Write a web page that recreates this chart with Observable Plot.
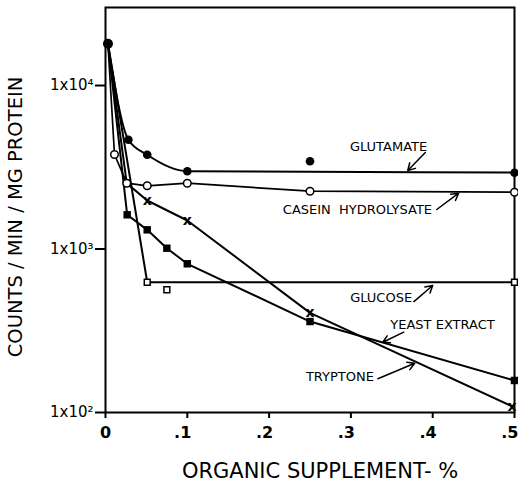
<!DOCTYPE html>
<html><head><meta charset="utf-8">
<script src="https://cdn.jsdelivr.net/npm/d3@7"></script>
<script src="https://cdn.jsdelivr.net/npm/@observablehq/plot@0.6"></script>
<style>body{margin:0;background:#fff}</style>
</head><body><div id="chart"></div><script>
// axis ticks
const xTicks = [0, 0.1, 0.2, 0.3, 0.4, 0.5];
const xTickLabels = ["0", ".1", ".2", ".3", ".4", ".5"];
const yTicks = [100, 1000, 10000];
const yTickLabels = ["1x10²", "1x10³", "1x10⁴"];
const xTitle = "ORGANIC SUPPLEMENT- %";
const yTitle = "COUNTS / MIN / MG PROTEIN";

// shared starting point (no supplement)
const startX = [0.003];
const startY = [18000];

// measured points
const glutX = [0.028, 0.051, 0.1, 0.25, 0.5];
const glutY = [4660, 3770, 2990, 3440, 2925];
const caseinX = [0.011, 0.026, 0.051, 0.1, 0.25, 0.5];
const caseinY = [3785, 2526, 2435, 2526, 2257, 2226];
const glucoseX = [0.051, 0.075, 0.5];
const glucoseY = [626, 563, 626];
const yeastX = [0.0265, 0.051, 0.075, 0.1, 0.25, 0.5];
const yeastY = [1619, 1310, 1011, 812, 360, 157];
const tryptX = [0.051, 0.1, 0.25, 0.497];
const tryptY = [1980, 1494, 407, 109];

// drawn (fitted) curves
const glutLineX = [0.003, 0.028, 0.051, 0.1, 0.5];
const glutLineY = [18000, 4660, 3770, 2990, 2940];
const caseinLineX = [0.003, 0.011, 0.026, 0.051, 0.1, 0.25, 0.5];
const caseinLineY = [18000, 3785, 2526, 2435, 2526, 2257, 2226];
const glucoseLineX = [0.003, 0.051, 0.5];
const glucoseLineY = [18000, 626, 626];
const yeastLineX = [0.003, 0.0265, 0.051, 0.075, 0.1, 0.25, 0.5];
const yeastLineY = [18000, 1619, 1310, 1011, 812, 360, 157];
const tryptLineX = [0.003, 0.026, 0.051, 0.1, 0.25, 0.497];
const tryptLineY = [18000, 2520, 1980, 1494, 407, 109];

// series labels and pointer arrows
const labelText = ["GLUTAMATE", "CASEIN\u00a0\u00a0HYDROLYSATE", "GLUCOSE", "YEAST\u00a0EXTRACT", "TRYPTONE"];
const labelX = [0.346, 0.308, 0.337, 0.412, 0.2866];
const labelY = [4195, 1744, 505, 345, 166];
const arrowX1 = [0.391, 0.405, 0.377, 0.3646, 0.333];
const arrowY1 = [3892, 1744, 477, 310, 161];
const arrowX2 = [0.3695, 0.4317, 0.4, 0.339, 0.378];
const arrowY2 = [3020, 2194, 598, 269, 200];

const pts = (xs, ys) => xs.map((x, i) => ({x, y: ys[i]}));
const labels = labelText.map((t, i) => ({t, x: labelX[i], y: labelY[i]}));
const arrows = arrowX1.map((x1, i) => ({x1, y1: arrowY1[i], x2: arrowX2[i], y2: arrowY2[i]}));
const fmtX = d => xTickLabels[xTicks.indexOf(d)];

const chart = Plot.plot({
  width: 518, height: 487,
  marginLeft: 105, marginRight: 4, marginTop: 7, marginBottom: 75,
  style: {fontFamily: "DejaVu Sans", background: "white", color: "black"},
  x: {domain: [0, 0.5]},
  y: {type: "log", domain: [100, 30000]},
  marks: [
    Plot.frame({strokeWidth: 2}),
    Plot.axisX({ticks: xTicks, tickFormat: () => "", tickSize: 6, label: null, strokeWidth: 2}),
    Plot.axisX({ticks: xTicks.slice(0, 1), tickFormat: fmtX, tickSize: 0, tickPadding: 14, fontSize: 16, fontWeight: "bold", label: null}),
    Plot.axisX({ticks: xTicks.slice(1), tickFormat: fmtX, tickSize: 0, tickPadding: 14, textAnchor: "end", dx: 4, fontSize: 16, fontWeight: "bold", label: null}),
    Plot.axisY({ticks: yTicks, tickFormat: d => yTickLabels[yTicks.indexOf(d)], tickSize: 10, tickPadding: 2, fontSize: 15, label: null, strokeWidth: 2}),
    Plot.text([yTitle], {frameAnchor: "left", textAnchor: "middle", dx: -90, dy: 7, rotate: -90, fontSize: 19.5, text: d => d}),
    Plot.text([xTitle], {frameAnchor: "bottom", dx: 10, dy: 65, fontSize: 21, text: d => d}),
    Plot.line(pts(glutLineX, glutLineY), {x: "x", y: "y", strokeWidth: 2, curve: "monotone-x"}),
    Plot.line(pts(caseinLineX, caseinLineY), {x: "x", y: "y", strokeWidth: 1.7}),
    Plot.line(pts(glucoseLineX, glucoseLineY), {x: "x", y: "y", strokeWidth: 2}),
    Plot.line(pts(yeastLineX, yeastLineY), {x: "x", y: "y", strokeWidth: 2}),
    Plot.line(pts(tryptLineX, tryptLineY), {x: "x", y: "y", strokeWidth: 2}),
    Plot.dot(pts(startX, startY), {x: "x", y: "y", r: 5, fill: "black"}),
    Plot.dot(pts(glutX, glutY), {x: "x", y: "y", r: 4.3, fill: "black"}),
    Plot.dot(pts(caseinX, caseinY), {x: "x", y: "y", r: 3.8, fill: "white", stroke: "black", strokeWidth: 1.5}),
    Plot.dot(pts(glucoseX, glucoseY), {x: "x", y: "y", r: 3.3, symbol: "square", fill: "white", stroke: "black", strokeWidth: 1.5}),
    Plot.dot(pts(yeastX, yeastY), {x: "x", y: "y", r: 4.2, symbol: "square", fill: "black"}),
    Plot.text(pts(tryptX, tryptY), {x: "x", y: "y", text: () => "x", fontSize: 14, fontWeight: "bold"}),
    Plot.text(labels, {x: "x", y: "y", text: "t", fontSize: 13}),
    Plot.arrow(arrows, {x1: "x1", y1: "y1", x2: "x2", y2: "y2", strokeWidth: 1.5, headLength: 8})
  ]
});
document.getElementById("chart").appendChild(chart);
</script></body></html>
